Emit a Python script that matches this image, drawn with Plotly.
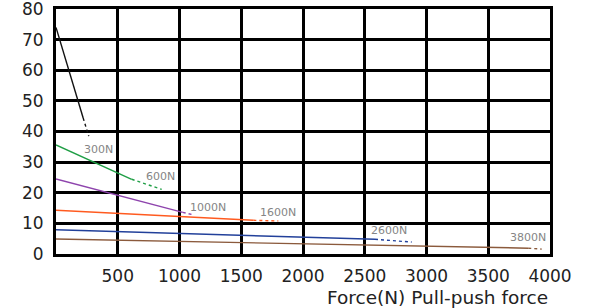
import plotly.graph_objects as go

# Data
series_names = ["300N", "600N", "1000N", "1600N", "2600N", "3800N"]
colors = ["#111111", "#1f9e45", "#8e44ad", "#ff5a1f", "#22409a", "#8b5a3c"]
start_y = [74.0, 35.6, 24.5, 14.3, 7.9, 4.9]
solid_end_x = [220, 613, 1026, 1598, 2583, 3824]
solid_end_y = [44.4, 24.4, 13.6, 11.0, 4.8, 1.9]
dot_end_x = [265, 856, 1112, 1800, 2880, 3933]
dot_end_y = [38.5, 21.1, 12.8, 10.8, 3.9, 1.6]
label_x = [210, 715, 1071, 1638, 2537, 3657]
label_y = [34.0, 25.2, 15.1, 13.6, 7.6, 5.3]

x_ticks = [500, 1000, 1500, 2000, 2500, 3000, 3500, 4000]
y_ticks = [0, 10, 20, 30, 40, 50, 60, 70, 80]

FONT = "DejaVu Sans, Liberation Sans, Arial"

fig = go.Figure()
for i, name in enumerate(series_names):
    fig.add_trace(go.Scatter(
        x=[0, solid_end_x[i]], y=[start_y[i], solid_end_y[i]],
        mode="lines", line=dict(color=colors[i], width=1.4),
        showlegend=False, hoverinfo="skip"))
    fig.add_trace(go.Scatter(
        x=[solid_end_x[i], dot_end_x[i]], y=[solid_end_y[i], dot_end_y[i]],
        mode="lines", line=dict(color=colors[i], width=1.4, dash="dot"),
        showlegend=False, hoverinfo="skip"))
    fig.add_annotation(x=label_x[i], y=label_y[i], text=name, showarrow=False,
                       xanchor="left", yanchor="middle",
                       font=dict(family=FONT, size=11, color="#858585"))

fig.add_annotation(xref="paper", yref="paper", x=1.0, y=0, yshift=-43,
                   xanchor="right", yanchor="middle", showarrow=False,
                   text="Force(N) Pull-push force",
                   font=dict(family=FONT, size=18.5, color="#222222"))

fig.update_xaxes(range=[0, 4000], tickvals=x_ticks, ticktext=[str(v) for v in x_ticks],
                 showgrid=True, gridcolor="black", gridwidth=3,
                 showline=True, linecolor="black", linewidth=3, mirror=True,
                 zeroline=False, ticks="", ticklabelstandoff=5, ticklabeloverflow="allow",
                 tickfont=dict(family=FONT, size=17, color="#222222"))
fig.update_yaxes(range=[0, 80], tickvals=y_ticks, ticktext=[str(v) for v in y_ticks],
                 showgrid=True, gridcolor="black", gridwidth=3,
                 showline=True, linecolor="black", linewidth=3, mirror=True,
                 zeroline=False, ticks="", ticklabelstandoff=6, ticklabeloverflow="allow",
                 tickfont=dict(family=FONT, size=17, color="#222222"))

fig.update_layout(width=593, height=308, margin=dict(l=56, r=43, t=9, b=54, autoexpand=False),
                  plot_bgcolor="white", paper_bgcolor="white")

fig.write_html("out.html", config={"displayModeBar": False},
               post_script="document.body.style.margin='0';document.body.style.overflow='hidden';")
